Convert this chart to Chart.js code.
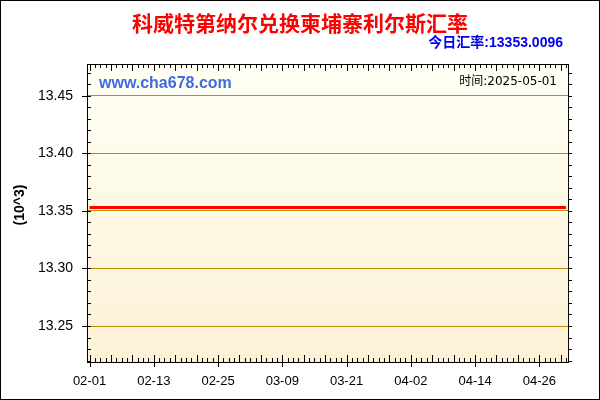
<!DOCTYPE html>
<html>
<head>
<meta charset="utf-8">
<script src="https://cdn.jsdelivr.net/npm/chart.js@4.4.1/dist/chart.umd.min.js"></script>
<style>
  body { margin: 0; background: #fff; }
  canvas { display: block; }
</style>
</head>
<body>
<canvas id="rateChart" width="600" height="400"></canvas>
<script>
// 科威特第纳尔 -> 柬埔寨利尔斯, daily rate (x1000), 2025-02-01 .. 2025-05-01
var rates = [
  13.3530, 13.3530, 13.3530, 13.3530, 13.3530, 13.3530, 13.3530, 13.3530, 13.3530, 13.3530,
  13.3530, 13.3530, 13.3530, 13.3530, 13.3530, 13.3530, 13.3530, 13.3530, 13.3530, 13.3530,
  13.3530, 13.3530, 13.3530, 13.3530, 13.3530, 13.3530, 13.3530, 13.3530, 13.3530, 13.3530,
  13.3530, 13.3530, 13.3530, 13.3530, 13.3530, 13.3530, 13.3530, 13.3530, 13.3530, 13.3530,
  13.3530, 13.3530, 13.3530, 13.3530, 13.3530, 13.3530, 13.3530, 13.3530, 13.3530, 13.3530,
  13.3530, 13.3530, 13.3530, 13.3530, 13.3530, 13.3530, 13.3530, 13.3530, 13.3530, 13.3530,
  13.3530, 13.3530, 13.3530, 13.3530, 13.3530, 13.3530, 13.3530, 13.3530, 13.3530, 13.3530,
  13.3530, 13.3530, 13.3530, 13.3530, 13.3530, 13.3530, 13.3530, 13.3530, 13.3530, 13.3530,
  13.3530, 13.3530, 13.3530, 13.3530, 13.3530, 13.3530, 13.3530, 13.3530, 13.3530, 13.3530
];
var xTickDays = [0, 12, 24, 36, 48, 60, 72, 84];
var xTickLabels = ["02-01", "02-13", "02-25", "03-09", "03-21", "04-02", "04-14", "04-26"];
var yTickValues = [13.25, 13.30, 13.35, 13.40, 13.45];
var yTickLabels = ["13.25", "13.30", "13.35", "13.40", "13.45"];

var titleText = "科威特第纳尔兑换柬埔寨利尔斯汇率";
var todayText = "今日汇率:13353.0096";
var siteText = "www.cha678.com";
var dateText = "时间:2025-05-01";
var unitText = "(10^3)";

var points = rates.map(function (v, i) {
  return { x: i, y: v };
});

// background, frame, tick marks and texts
var decor = {
  id: "decor",
  beforeDraw: function (chart) {
    var ctx = chart.ctx, a = chart.chartArea;
    ctx.save();
    ctx.fillStyle = "#fff";
    ctx.fillRect(0, 0, chart.width, chart.height);
    var g = ctx.createLinearGradient(0, a.top, 0, a.bottom);
    g.addColorStop(0, "#fffff4");
    g.addColorStop(1, "#fcf1d6");
    ctx.fillStyle = g;
    ctx.fillRect(a.left, a.top, a.right - a.left, a.bottom - a.top);
    ctx.restore();
  },
  afterDraw: function (chart) {
    var ctx = chart.ctx, a = chart.chartArea;
    var xs = chart.scales.x, ys = chart.scales.y;
    ctx.save();
    ctx.strokeStyle = "#000";
    ctx.lineWidth = 1;
    ctx.beginPath();
    // x ticks, one per day
    for (var d = 0; d <= 89; d++) {
      var px = Math.round(xs.getPixelForValue(d)) + 0.5;
      var len = d % 4 === 0 ? 7 : 4;
      ctx.moveTo(px, a.bottom);
      ctx.lineTo(px, a.bottom - len);
      ctx.moveTo(px, a.top);
      ctx.lineTo(px, a.top + len);
      if (d % 12 === 0 && d <= 84) {
        ctx.moveTo(px, a.bottom);
        ctx.lineTo(px, a.bottom + 5);
      }
    }
    // y ticks, every 0.01
    for (var k = 1322; k <= 1347; k++) {
      var py = Math.round(ys.getPixelForValue(k / 100)) + 0.5;
      ctx.moveTo(a.left, py);
      ctx.lineTo(a.left + 4, py);
      ctx.moveTo(a.right, py);
      ctx.lineTo(a.right + 4, py);
      if (k % 5 === 0) {
        ctx.moveTo(a.left - 5, py);
        ctx.lineTo(a.left, py);
      }
    }
    ctx.stroke();
    ctx.strokeRect(Math.round(a.left) + 0.5, Math.round(a.top) + 0.5,
      Math.round(a.right - a.left), Math.round(a.bottom - a.top));
    ctx.strokeRect(0.5, 0.5, chart.width - 1, chart.height - 1);

    ctx.textBaseline = "middle";
    ctx.fillStyle = "#ff0000";
    ctx.textAlign = "center";
    ctx.font = "bold 21px 'Noto Sans CJK SC'";
    ctx.fillText(titleText, 300, 23);

    ctx.fillStyle = "#0000ee";
    ctx.textAlign = "right";
    ctx.font = "bold 14px 'Liberation Sans', 'Noto Sans CJK SC'";
    ctx.fillText(todayText, 563, 43);

    ctx.fillStyle = "#4169e1";
    ctx.textAlign = "left";
    ctx.font = "bold 16px 'Liberation Sans'";
    ctx.fillText(siteText, 99, 84);

    ctx.fillStyle = "#000";
    ctx.textAlign = "right";
    ctx.font = "12px 'DejaVu Sans', 'Noto Sans CJK SC'";
    ctx.fillText(dateText, 557, 82);

    ctx.translate(20, 205);
    ctx.rotate(-Math.PI / 2);
    ctx.textAlign = "center";
    ctx.font = "bold 14px 'Liberation Sans'";
    ctx.fillText(unitText, 0, 0);
    ctx.restore();
  }
};

var ctx = document.getElementById("rateChart").getContext("2d");
var rateChart = new Chart(ctx, {
  type: "line",
  data: {
    datasets: [
      {
        data: points,
        borderColor: "#ff0000",
        borderWidth: 3,
        pointRadius: 0,
        fill: false,
        tension: 0,
      },
    ],
  },
  options: {
    responsive: false,
    animation: false,
    devicePixelRatio: 1,
    layout: { padding: { left: 0, top: 64, right: 32, bottom: 0 } },
    plugins: {
      legend: { display: false },
      tooltip: { enabled: false },
    },
    scales: {
      x: {
        type: "linear",
        min: -0.47,
        max: 89.36,
        afterFit: function (s) { s.height = 38; },
        afterBuildTicks: function (s) {
          s.ticks = xTickDays.map(function (d) { return { value: d }; });
        },
        ticks: {
          autoSkip: false,
          maxRotation: 0,
          padding: 12,
          color: "#000",
          font: { family: "'Liberation Sans'", size: 13 },
          callback: function (v) {
            var i = xTickDays.indexOf(v);
            return i >= 0 ? xTickLabels[i] : "";
          },
        },
        grid: { drawOnChartArea: false, drawTicks: false },
        border: { display: false },
      },
      y: {
        min: 13.2187,
        max: 13.4778,
        afterFit: function (s) { s.width = 87; },
        afterBuildTicks: function (s) {
          s.ticks = yTickValues.map(function (v) { return { value: v }; });
        },
        ticks: {
          padding: 14,
          color: "#000",
          font: { family: "'Liberation Sans'", size: 14 },
          callback: function (v) {
            var i = yTickValues.indexOf(v);
            return i >= 0 ? yTickLabels[i] : "";
          },
        },
        grid: { color: "#bf8c00", lineWidth: 1, drawTicks: false },
        border: { display: false },
      },
    },
  },
  plugins: [decor],
});
</script>
</body>
</html>
